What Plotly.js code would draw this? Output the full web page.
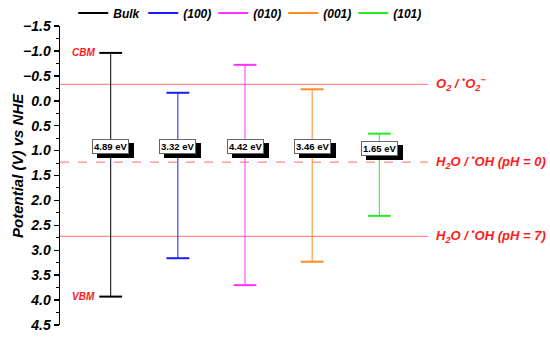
<!DOCTYPE html>
<html>
<head>
<meta charset="utf-8">
<script src="https://cdn.plot.ly/plotly-3.0.1.min.js"></script>
<style>html,body{margin:0;padding:0;background:#fff;}#chart{width:550px;height:338px;}</style>
</head>
<body>
<div id="chart"></div>
<script>
// ---- data ----
const categories = ['Bulk', '(100)', '(010)', '(001)', '(101)'];
const cbm = [-0.96, -0.16, -0.72, -0.23, 0.66];
const vbm = [3.93, 3.16, 3.70, 3.23, 2.31];
const gapLabels = ['4.89 eV', '3.32 eV', '4.42 eV', '3.46 eV', '1.65 eV'];
const gapLabelY = [0.91, 0.91, 0.91, 0.91, 0.95];
const seriesColors = ['#000000', '#1a1aff', '#ff33ff', '#ff8c1a', '#22ee22'];
const refPotentials = [-0.33, 1.23, 2.72];
const refLabels = [
  'O<sub>2</sub> / <sup>•</sup>O<sub>2</sub><sup>−</sup>',
  'H<sub>2</sub>O / <sup>•</sup>OH (pH = 0)',
  'H<sub>2</sub>O / <sup>•</sup>OH (pH = 7)'
];
const refDash = ['solid', 'dash', 'solid'];
const edgeLabels = ['CBM', 'VBM'];

// ---- build ----
const FONT = 'Liberation Sans, Arial, sans-serif';
const capHalf = 0.17;
const traces = [];
categories.forEach((name, i) => {
  const x = i + 1;
  traces.push({
    type: 'scatter', mode: 'lines', x: [x, x], y: [cbm[i], vbm[i]],
    line: {color: seriesColors[i], width: 1}, showlegend: false, hoverinfo: 'skip',
    legendgroup: name
  });
  traces.push({
    type: 'scatter', mode: 'lines', name: name, legendgroup: name,
    x: [x - capHalf, x + capHalf, null, x - capHalf, x + capHalf],
    y: [cbm[i], cbm[i], null, vbm[i], vbm[i]],
    line: {color: seriesColors[i], width: 2}
  });
});

const shapes = refPotentials.map((v, k) => ({
  type: 'line', xref: 'paper', yref: 'y', x0: 0, x1: 1, y0: v, y1: v,
  line: {color: '#ff8a8a', width: 1.3, dash: refDash[k]}, layer: 'below'
}));

const annotations = [];
refPotentials.forEach((v, k) => {
  annotations.push({
    xref: 'paper', yref: 'y', x: 1.015, y: v, xanchor: 'left', yanchor: 'middle',
    text: refLabels[k], showarrow: false,
    font: {family: FONT, size: 13, color: '#ff1a1a', weight: 'bold', style: 'italic'}
  });
});
[cbm[0], vbm[0]].forEach((v, k) => {
  annotations.push({
    xref: 'x', yref: 'y', x: 1, y: v, xanchor: 'right', yanchor: 'middle', xshift: -14,
    text: edgeLabels[k], showarrow: false,
    font: {family: FONT, size: 10, color: '#ff1a1a', weight: 'bold', style: 'italic'}
  });
});
gapLabels.forEach((t, i) => {
  annotations.push({
    xref: 'x', yref: 'y', x: i + 1, y: gapLabelY[i], xshift: 5, yshift: -4,
    text: t, showarrow: false, bgcolor: '#000', bordercolor: '#000', borderwidth: 1, borderpad: 1,
    font: {family: FONT, size: 9.5, color: '#000', weight: 'bold'}
  });
  annotations.push({
    xref: 'x', yref: 'y', x: i + 1, y: gapLabelY[i],
    text: t, showarrow: false, bgcolor: '#fff', bordercolor: '#666', borderwidth: 1, borderpad: 1,
    font: {family: FONT, size: 9.5, color: '#000', weight: 'bold'}
  });
});
annotations.push({
  xref: 'paper', yref: 'paper', x: -0.117, y: 0.535, xanchor: 'center', yanchor: 'middle',
  textangle: -90, text: 'Potential (V) vs NHE', showarrow: false,
  font: {family: FONT, size: 15, color: '#000', weight: 'bold', style: 'italic'}
});

const layout = {
  width: 550, height: 338,
  margin: {l: 60, r: 122, t: 26, b: 13, autoexpand: false},
  paper_bgcolor: '#fff', plot_bgcolor: '#fff',
  showlegend: true,
  legend: {
    orientation: 'h', x: 0.036, y: 1.0435, xanchor: 'left', yanchor: 'middle',
    entrywidth: 25, entrywidthmode: 'pixels', itemwidth: 30,
    font: {family: FONT, size: 12, color: '#000', weight: 'bold', style: 'italic'},
    bgcolor: 'rgba(0,0,0,0)'
  },
  xaxis: {range: [0.245, 5.725], visible: false, fixedrange: true},
  yaxis: {
    range: [4.5, -1.5], dtick: 0.5, tick0: 0, tickformat: '.1f',
    ticks: 'outside', ticklen: 5, tickwidth: 1.5, tickcolor: '#000',
    showline: true, linewidth: 1.5, linecolor: '#000',
    showgrid: false, zeroline: false,
    minor: {dtick: 0.25, ticks: 'outside', ticklen: 3, tickwidth: 1, tickcolor: '#000'},
    tickfont: {family: FONT, size: 14, color: '#000', weight: 'bold', style: 'italic'}
  },
  shapes: shapes,
  annotations: annotations
};

Plotly.newPlot('chart', traces, layout, {staticPlot: true, displayModeBar: false});
</script>
</body>
</html>
